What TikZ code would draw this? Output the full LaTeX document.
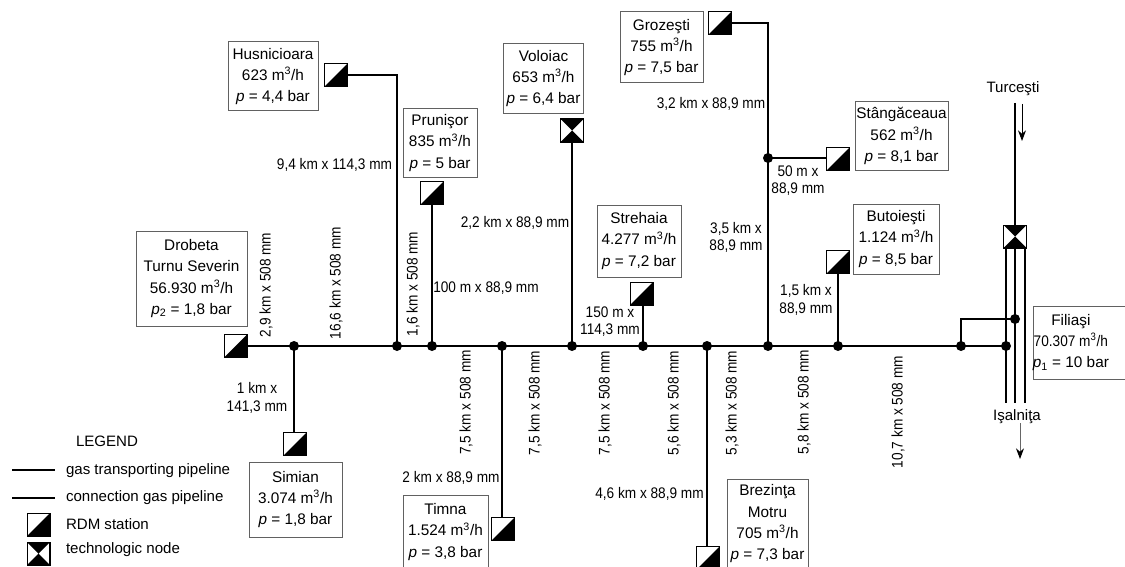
\documentclass[tikz,border=0pt]{standalone}
\usepackage{fontspec}
\setmainfont{Liberation Sans}
\newfontfamily\labfont[FakeStretch=0.89]{Liberation Sans}
\usetikzlibrary{arrows.meta}
\newcommand{\mh}{m\textsuperscript{3}/h}
\newcommand{\pp}{{\itshape p}}
\newcommand{\psub}[1]{{\itshape p}\textsubscript{#1}}
\newcommand{\shft}{\hspace*{-13pt}}
\tikzset{
 x=0.75pt,y=-0.75pt,
 every node/.style={font=\fontsize{11.3pt}{12.9pt}\selectfont,inner sep=0pt,outer sep=0pt},
 box/.style={draw=black!62,line width=0.75pt,fill=white,align=center,font=\fontsize{11.5pt}{16pt}\selectfont},
 lab/.style={align=center,font=\fontsize{11.5pt}{12.9pt}\labfont},
 rot/.style={rotate=90,align=center,font=\fontsize{11.5pt}{12.9pt}\labfont},
 main/.style={line width=1.8pt},
 conn/.style={line width=1pt},
 dot/.style={circle,fill=black,minimum size=7.5pt},
 rdm/.style={draw=black,line width=0.8pt,fill=white,minimum size=17.2pt,
   path picture={\fill[black] (path picture bounding box.south west)--(path picture bounding box.south east)--(path picture bounding box.north east)--cycle;}},
 tnode/.style={draw=black,line width=0.8pt,fill=white,minimum size=17.2pt,
   path picture={\fill[black] (path picture bounding box.south west)--(path picture bounding box.south east)--(path picture bounding box.north west)--(path picture bounding box.north east)--cycle;}},
 flow/.style={line width=0.7pt,-{Stealth[length=8pt,width=6pt,black]}}
}
\newcommand{\bx}[6]{\node[box,minimum width=#4*0.75pt,minimum height=#5*0.75pt] (#1) at (#2,#3) {#6};}
\begin{document}
\begin{tikzpicture}
\useasboundingbox (0,0) rectangle (1125,567);
\fill[white] (0,0) rectangle (1125,567);
% junctions
\foreach \n/\x in {a/294,b/397,c/432,d/502,e/572,f/643,g/707,h/768,i/838,j/961,k/1006}
  \node[dot] (j\n) at (\x,346) {};
\node[dot] (jm) at (768,158) {};
\node[dot] (jn) at (1015,319) {};
% stations
\node[rdm] (sDrobeta) at (235.5,346) {};
\node[rdm] (sSimian) at (295,444) {};
\node[rdm] (sHus) at (336,75) {};
\node[rdm] (sPru) at (432,193) {};
\node[tnode] (sVol) at (572,130.5) {};
\node[rdm] (sStr) at (641.5,293.5) {};
\node[rdm] (sTim) at (503,529) {};
\node[rdm] (sBre) at (708,558) {};
\node[rdm] (sGro) at (720,23) {};
\node[rdm] (sSta) at (838,159) {};
\node[rdm] (sBut) at (838,262) {};
\node[tnode] (sT) at (1015,236.5) {};
% free ends
\coordinate (tTop) at (1015,103);
\coordinate (b1) at (1006,403);
\coordinate (b2) at (1015,403);
\coordinate (b3) at (1025,403);
\coordinate (t1) at (1006,249);
\coordinate (t3) at (1025,249);
\coordinate (a1s) at (1022,104);
\coordinate (a1e) at (1022,141);
\coordinate (a2s) at (1020,423);
\coordinate (a2e) at (1020,459);
% pipes
\draw[main] (sDrobeta.east) -- (jk.center);
\draw[main] (tTop) -- (sT.north);
\draw[main] (t1) -- (b1);
\draw[main] (sT.south) -- (b2);
\draw[main] (t3) -- (b3);
\draw[main] (jj.center) -- (jj.center |- jn.center) -- (jn.center);
\draw[conn] (ja.center) -- (ja.center |- sSimian.north);
\draw[conn] (sHus.east) -| (jb.center);
\draw[conn] (jc.center) -- (sPru.south);
\draw[conn] (jd.center) -- (jd.center |- sTim.north);
\draw[conn] (je.center) -- (sVol.south);
\draw[conn] (jf.center) -- (jf.center |- sStr.south);
\draw[conn] (jg.center) -- (jg.center |- sBre.north);
\draw[conn] (sGro.east) -| (jh.center);
\draw[conn] (jm.center) -- (jm.center -| sSta.west);
\draw[conn] (ji.center) -- (sBut.south);
\draw[flow] (a1s) -- (a1e);
\draw[flow,draw=black!60] (a2s) -- (a2e);
\node (lT) at (1013,89) {Turceşti};
\node (lI) at (1017,417) {Işalniţa};
% boxes
\bx{bHus}{273}{76.5}{90}{69}{Husnicioara\\623 \mh\\\pp{} = 4,4 bar}
\bx{bDro}{191.5}{278.5}{111}{95}{Drobeta\\Turnu Severin\\56.930 \mh\\\psub{2} = 1,8 bar}
\bx{bSim}{295.5}{499.5}{93}{75}{Simian\\3.074 \mh\\\pp{} = 1,8 bar}
\bx{bTim}{445.5}{532}{85}{74}{Timna\\1.524 \mh\\\pp{} = 3,8 bar}
\bx{bVol}{543.5}{78.5}{80}{70}{Voloiac\\653 \mh\\\pp{} = 6,4 bar}
\bx{bPru}{440}{143}{74}{68}{Prunişor\\835 \mh\\\pp{} = 5 bar}
\bx{bGro}{661.5}{47.5}{83}{71}{Grozeşti\\755 \mh\\\pp{} = 7,5 bar}
\bx{bSta}{901.5}{136}{93}{68}{Stângăceaua\\562 \mh\\\pp{} = 8,1 bar}
\bx{bStr}{639}{241}{84}{72}{Strehaia\\4.277 \mh\\\pp{} = 7,2 bar}
\bx{bBut}{896}{239}{86}{70}{Butoieşti\\1.124 \mh\\\pp{} = 8,5 bar}
\bx{bBre}{767.5}{524}{81}{90}{Brezinţa\\Motru\\705 \mh\\\pp{} = 7,3 bar}
\bx{bFil}{1079.5}{342.5}{93}{73}{\shft Filiaşi\\\shft{\labfont 70.307 \mh}\\\shft\psub{1} = 10 bar}
% pipe labels
\node[rot] (r1) at (266,285) {2,9 km x 508 mm};
\node[rot] (r2) at (336,283) {16,6 km x 508 mm};
\node[rot] (r3) at (413,284) {1,6 km x 508 mm};
\node[rot] (r4) at (466,402.5) {7,5 km x 508 mm};
\node[rot] (r5) at (535,403) {7,5 km x 508 mm};
\node[rot] (r6) at (605,403) {7,5 km x 508 mm};
\node[rot] (r7) at (674,403) {5,6 km x 508 mm};
\node[rot] (r8) at (732,403) {5,3 km x 508 mm};
\node[rot] (r9) at (804,402) {5,8 km x 508 mm};
\node[rot] (r10) at (898,412) {10,7 km x 508 mm};
\node[lab] (l1) at (334.5,165) {9,4 km x 114,3 mm};
\node[lab] (l2) at (486,288) {100 m x 88,9 mm};
\node[lab] (l3) at (515,223) {2,2 km x 88,9 mm};
\node[lab] (l4) at (610,321.5) {150 m x\\114,3 mm};
\node[lab] (l5) at (257,398) {1 km x\\141,3 mm};
\node[lab] (l6) at (451,478) {2 km x 88,9 mm};
\node[lab] (l7) at (649.5,494) {4,6 km x 88,9 mm};
\node[lab] (l8) at (711,104) {3,2 km x 88,9 mm};
\node[lab] (l9) at (798,180.5) {50 m x\\88,9 mm};
\node[lab] (l10) at (736,237.5) {3,5 km x\\88,9 mm};
\node[lab] (l11) at (806,300) {1,5 km x\\88,9 mm};
% legend
\node[anchor=west] (lg0) at (76,441) {LEGEND};
\coordinate (lga) at (12,470); \coordinate (lgb) at (55,470);
\coordinate (lgc) at (12,498); \coordinate (lgd) at (55,498);
\draw[main] (lga) -- (lgb);
\draw[conn] (lgc) -- (lgd);
\node[anchor=west] (lg1) at (66,471) {gas transporting pipeline};
\node[anchor=west] (lg2) at (66,498) {connection gas pipeline};
\node[rdm] (lgR) at (38.5,524.5) {};
\node[tnode] (lgT) at (38.5,553.5) {};
\node[anchor=west] (lg3) at (66,524) {RDM station};
\node[anchor=west] (lg4) at (66,550) {technologic node};
\end{tikzpicture}
\end{document}
